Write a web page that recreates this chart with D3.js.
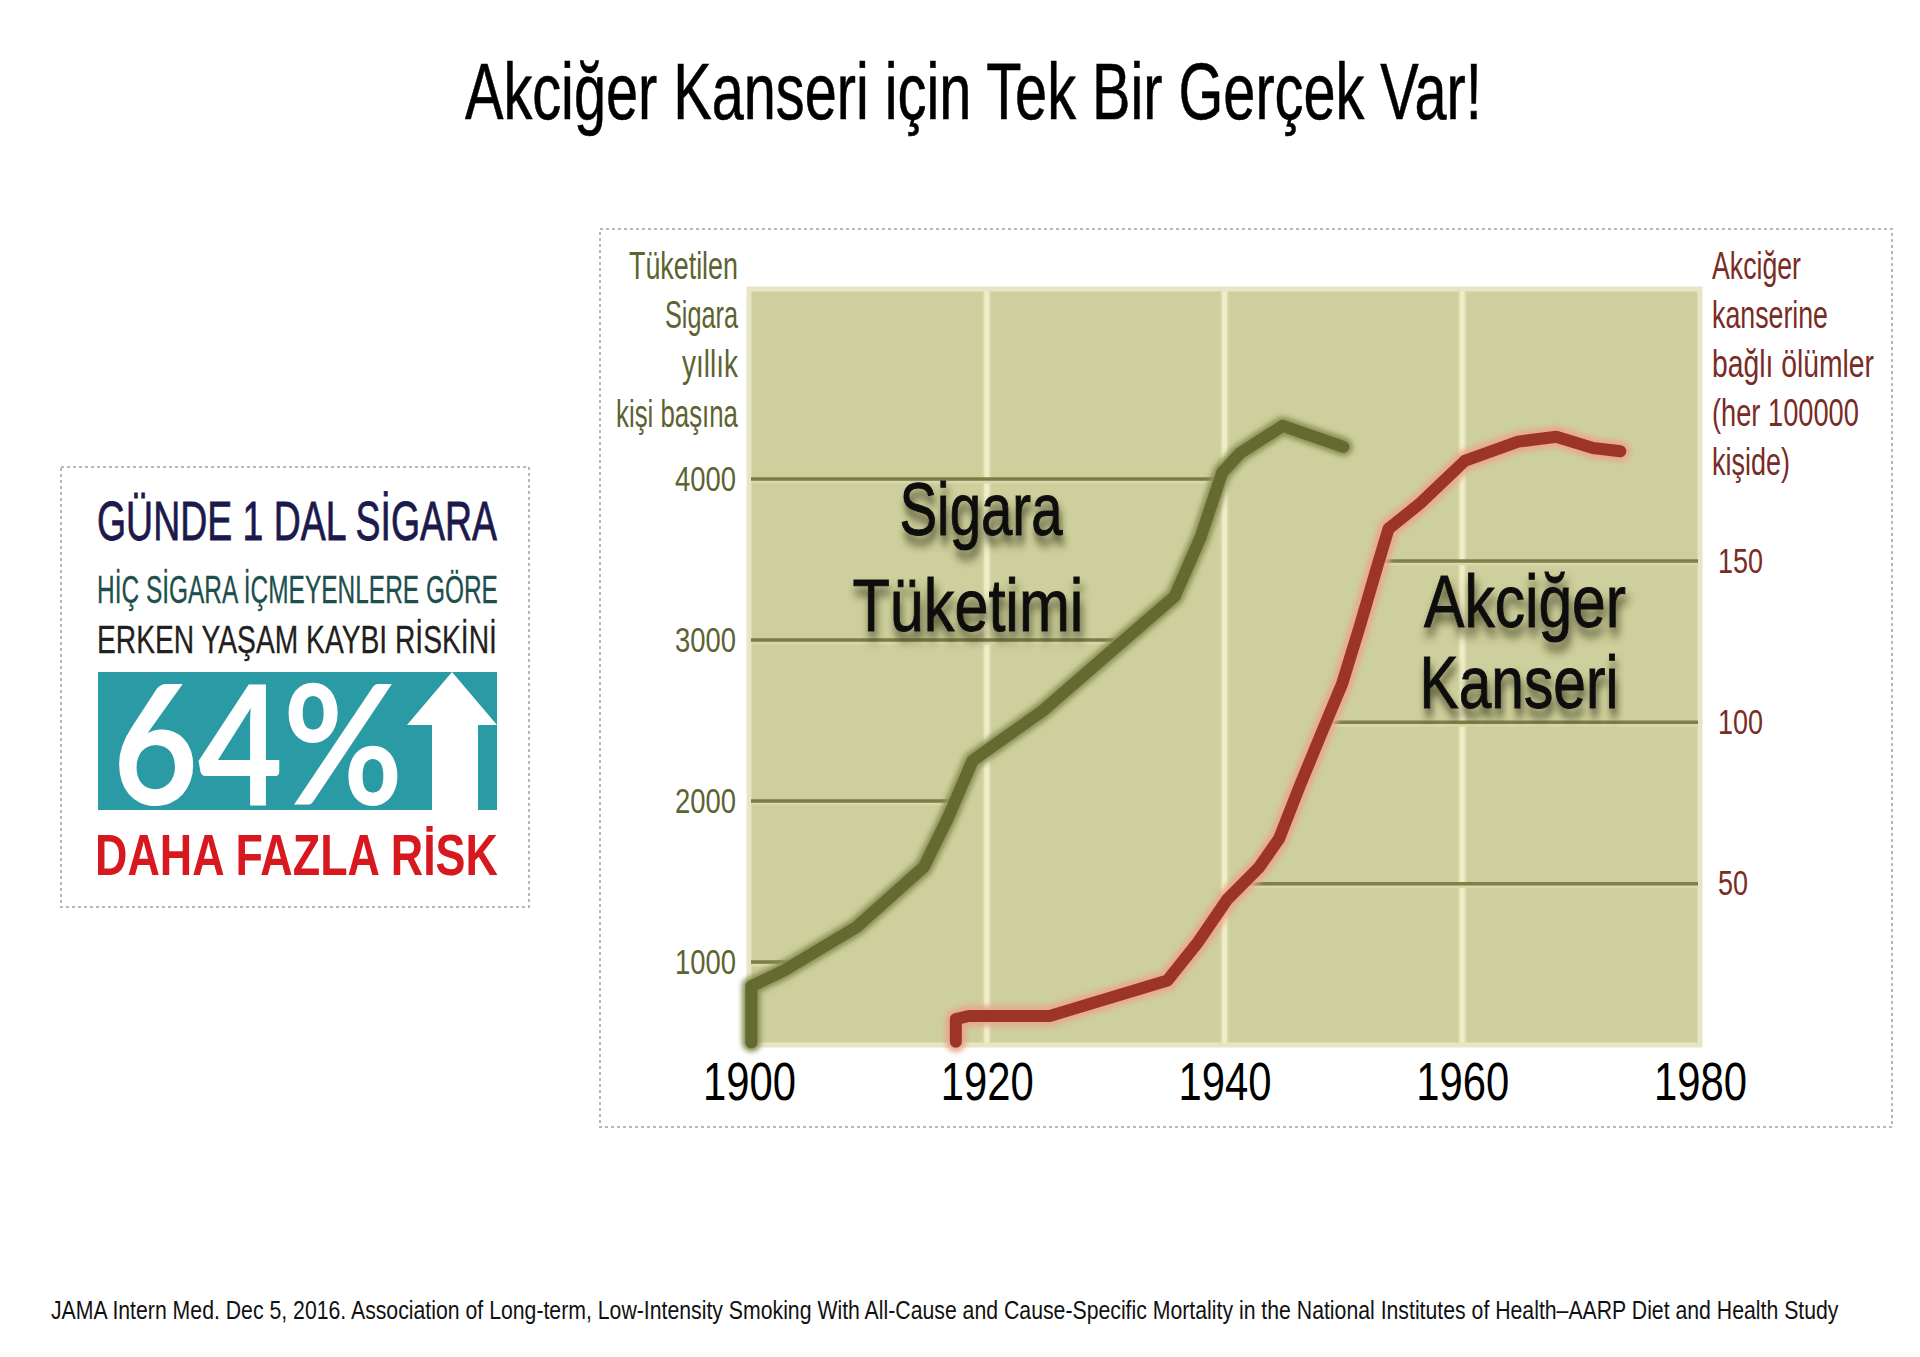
<!DOCTYPE html>
<html><head><meta charset="utf-8">
<script src="https://cdn.jsdelivr.net/npm/d3@7"></script>
<style>body{margin:0;background:#fff} svg{display:block}</style>
</head><body>
<svg id="c" width="1920" height="1357"></svg>
<script>
// ---------- DATA ----------
const xTickYears = [1900, 1920, 1940, 1960, 1980];
const leftTickValues = [1000, 2000, 3000, 4000];
const rightTickValues = [50, 100, 150];

// Cigarette consumption per person per year (left axis)
const cigYears  = [1900.2, 1900.2, 1903, 1909, 1914.7, 1916.7, 1918.8, 1920.3, 1924.7, 1930, 1935.8, 1938, 1939.8, 1941.3, 1944.9, 1950];
const cigValues = [500, 850, 950, 1215, 1590, 1890, 2250, 2330, 2560, 2900, 3270, 3640, 4040, 4160, 4330, 4200];

// Lung cancer deaths per 100000 (right axis)
const lcYears  = [1917.4, 1917.4, 1918.5, 1925.3, 1935.2, 1937.8, 1940.2, 1942.9, 1944.6, 1946.3, 1948.2, 1949.9, 1951.4, 1952.9, 1953.8, 1956.5, 1960.2, 1964.7, 1967.9, 1971, 1973.3];
const lcValues = [1, 8, 9, 9, 20, 32, 45, 55, 64, 80, 97, 112, 130, 149, 160, 168, 181, 187, 188.5, 185, 184];

const titleText = "Akciğer Kanseri için Tek Bir Gerçek Var!";
const leftAxisTitle = ["Tüketilen", "Sigara", "yıllık", "kişi başına"];
const rightAxisTitle = ["Akciğer", "kanserine", "bağlı ölümler", "(her 100000", "kişide)"];
const cigLabel = ["Sigara", "Tüketimi"];
const lcLabel = ["Akciğer", "Kanseri"];
const boxLines = ["GÜNDE 1 DAL SİGARA", "HİÇ SİGARA İÇMEYENLERE GÖRE", "ERKEN YAŞAM KAYBI RİSKİNİ"];
const boxPercent = "64%";
const boxRisk = "DAHA FAZLA RİSK";
const sourceText = "JAMA Intern Med. Dec 5, 2016. Association of Long-term, Low-Intensity Smoking With All-Cause and Cause-Specific Mortality in the National Institutes of Health–AARP Diet and Health Study";

// ---------- LAYOUT ----------
const FONT = "'Liberation Sans Narrow','Liberation Sans','DejaVu Sans Condensed',sans-serif";
const P = {left: 749, right: 1700, top: 289, bottom: 1045};
const svg = d3.select("#c");
const defs = svg.append("defs");

const sh = defs.append("filter").attr("id", "shadow").attr("x", "-20%").attr("y", "-30%").attr("width", "140%").attr("height", "170%");
sh.append("feGaussianBlur").attr("in", "SourceAlpha").attr("stdDeviation", 5).attr("result", "b");
sh.append("feOffset").attr("in", "b").attr("dx", 3).attr("dy", 9).attr("result", "o");
sh.append("feFlood").attr("flood-color", "#3a3818").attr("flood-opacity", 0.8);
sh.append("feComposite").attr("in2", "o").attr("operator", "in").attr("result", "s");
const m = sh.append("feMerge"); m.append("feMergeNode").attr("in", "s"); m.append("feMergeNode").attr("in", "SourceGraphic");

const glow = defs.append("filter").attr("id", "glow").attr("x", "-10%").attr("y", "-10%").attr("width", "120%").attr("height", "120%");
glow.append("feGaussianBlur").attr("stdDeviation", 2.5);

// condensed text: scale horizontally so that the text spans exactly w pixels
function txt(parent, s, x, y, o) {
  const t = parent.append("text").attr("x", 0).attr("y", 0).text(s)
    .attr("font-family", o.family || FONT).attr("font-size", o.size)
    .attr("fill", o.fill || "#000").attr("font-weight", o.weight || "normal");
  if (o.stroke) t.attr("stroke", o.fill || "#000").attr("stroke-width", o.stroke);
  const w0 = t.node().getComputedTextLength();
  const sx = o.w ? o.w / w0 : 1;
  const w = w0 * sx;
  let x0 = x;
  if (o.anchor === "end") x0 = x - w;
  else if (o.anchor === "middle") x0 = x - w / 2;
  t.attr("transform", `translate(${x0},${y}) scale(${sx},1)`);
  if (o.filter) t.attr("filter", o.filter);
  return t;
}

// Title
txt(svg, titleText, 465, 119, {size: 80, w: 1017, stroke: 0.6});
// Source
txt(svg, sourceText, 51, 1319, {size: 25, w: 1789, fill: "#111"});

// ---------- LEFT INFO BOX ----------
const box = svg.append("g");
box.append("rect").attr("x", 61).attr("y", 467).attr("width", 468).attr("height", 440)
  .attr("fill", "#fff").attr("stroke", "#b8b8b8").attr("stroke-width", 2).attr("stroke-dasharray", "3,3");
txt(box, boxLines[0], 97, 540, {size: 55, w: 400, fill: "#1c1a4c", stroke: 0.8});
txt(box, boxLines[1], 97, 603, {size: 39, w: 401, fill: "#1d4f4c", stroke: 0.3});
txt(box, boxLines[2], 97, 653, {size: 39, w: 400, fill: "#231f20", stroke: 0.3});
box.append("rect").attr("x", 98).attr("y", 672).attr("width", 399).attr("height", 138).attr("fill", "#2a9aa5");
box.append("path").attr("d", "M407,725 L452,672 L497,725 L478,725 L478,810 L432,810 L432,725 Z").attr("fill", "#fff");
txt(box, boxPercent, 113, 805, {size: 166, w: 290, fill: "#fff", weight: "bold", family: "Lato,'Open Sans',sans-serif"});
txt(box, boxRisk, 95, 875, {size: 58, w: 403, fill: "#d7191f", weight: "bold"});

// ---------- CHART ----------
svg.append("rect").attr("x", 600).attr("y", 229).attr("width", 1292).attr("height", 898)
  .attr("fill", "none").attr("stroke", "#b8b8b8").attr("stroke-width", 2).attr("stroke-dasharray", "3,3");

const x = d3.scaleLinear().domain([1900, 1980]).range([P.left, P.right]);
const yL = d3.scaleLinear().domain([485, 5180]).range([P.bottom, P.top]);
const yR = d3.scaleLinear().domain([0, 234.3]).range([P.bottom, P.top]);

const plot = svg.append("g");
plot.append("rect").attr("x", P.left).attr("y", P.top).attr("width", P.right - P.left).attr("height", P.bottom - P.top)
  .attr("fill", "#cdcf9c").attr("stroke", "#e6e6c6").attr("stroke-width", 5);

// vertical grid lines
xTickYears.filter(d => d > 1900 && d < 1980).forEach(d => {
  plot.append("line").attr("x1", x(d)).attr("x2", x(d)).attr("y1", P.top + 2).attr("y2", P.bottom - 2)
    .attr("stroke", "#d9d8aa").attr("stroke-width", 9);
  plot.append("line").attr("x1", x(d)).attr("x2", x(d)).attr("y1", P.top + 2).attr("y2", P.bottom - 2)
    .attr("stroke", "#efedc6").attr("stroke-width", 5);
});

function crossing(xs, ys, v) {
  for (let i = 0; i < xs.length - 1; i++) {
    if ((ys[i] - v) * (ys[i + 1] - v) <= 0 && ys[i] !== ys[i + 1]) {
      return xs[i] + (v - ys[i]) / (ys[i + 1] - ys[i]) * (xs[i + 1] - xs[i]);
    }
  }
  return null;
}

// left horizontal grid lines: from left edge to cigarette curve
leftTickValues.forEach(v => {
  const cx = crossing(cigYears, cigValues, v);
  plot.append("line").attr("x1", P.left + 2).attr("x2", x(cx)).attr("y1", yL(v) + 3).attr("y2", yL(v) + 3)
    .attr("stroke", "#d9d8ae").attr("stroke-width", 3);
  plot.append("line").attr("x1", P.left + 2).attr("x2", x(cx)).attr("y1", yL(v)).attr("y2", yL(v))
    .attr("stroke", "#7a7e46").attr("stroke-width", 3.5);
});
// right horizontal grid lines: from lung cancer curve to right edge
rightTickValues.forEach(v => {
  const cx = crossing(lcYears, lcValues, v);
  plot.append("line").attr("x1", x(cx)).attr("x2", P.right - 2).attr("y1", yR(v) + 3).attr("y2", yR(v) + 3)
    .attr("stroke", "#d9d8ae").attr("stroke-width", 3);
  plot.append("line").attr("x1", x(cx)).attr("x2", P.right - 2).attr("y1", yR(v)).attr("y2", yR(v))
    .attr("stroke", "#7f7f48").attr("stroke-width", 3.5);
});

// big labels with shadow
txt(plot, cigLabel[0], 981, 535, {size: 75, w: 163, anchor: "middle", filter: "url(#shadow)", fill: "#111", stroke: 1});
txt(plot, cigLabel[1], 968, 631, {size: 75, w: 231, anchor: "middle", filter: "url(#shadow)", fill: "#111", stroke: 1});
txt(plot, lcLabel[0], 1525, 627, {size: 75, w: 202, anchor: "middle", filter: "url(#shadow)", fill: "#111", stroke: 1});
txt(plot, lcLabel[1], 1519, 708, {size: 75, w: 199, anchor: "middle", filter: "url(#shadow)", fill: "#111", stroke: 1});

// lines
const cigLine = d3.line().x((d, i) => x(cigYears[i])).y((d, i) => yL(cigValues[i])).curve(d3.curveLinear);
const lcLine = d3.line().x((d, i) => x(lcYears[i])).y((d, i) => yR(lcValues[i])).curve(d3.curveLinear);

plot.append("path").attr("d", cigLine(cigValues)).attr("fill", "none").attr("stroke", "#8d9257").attr("stroke-width", 19)
  .attr("stroke-linejoin", "round").attr("stroke-linecap", "round").attr("filter", "url(#glow)");
plot.append("path").attr("d", cigLine(cigValues)).attr("fill", "none").attr("stroke", "#636b30").attr("stroke-width", 12)
  .attr("stroke-linejoin", "round").attr("stroke-linecap", "round");

plot.append("path").attr("d", lcLine(lcValues)).attr("fill", "none").attr("stroke", "#eba58c").attr("stroke-width", 21)
  .attr("stroke-linejoin", "round").attr("stroke-linecap", "round").attr("filter", "url(#glow)").attr("opacity", 0.9);
plot.append("path").attr("d", lcLine(lcValues)).attr("fill", "none").attr("stroke", "#9c3527").attr("stroke-width", 12)
  .attr("stroke-linejoin", "round").attr("stroke-linecap", "round");

// axes
function fitAxisText(sel, widthFn) {
  sel.each(function (d) {
    const w = widthFn(d);
    d3.select(this).attr("textLength", w).attr("lengthAdjust", "spacingAndGlyphs");
  });
}
const axL = svg.append("g").attr("transform", `translate(${P.left},0)`)
  .call(d3.axisLeft(yL).tickValues(leftTickValues).tickSize(0).tickPadding(13).tickFormat(d3.format("d")));
axL.select(".domain").remove();
axL.selectAll("text").attr("font-family", FONT).attr("font-size", 35).attr("fill", "#5c6330");
fitAxisText(axL.selectAll("text"), () => 61);

const axR = svg.append("g").attr("transform", `translate(${P.right},0)`)
  .call(d3.axisRight(yR).tickValues(rightTickValues).tickSize(0).tickPadding(18).tickFormat(d3.format("d")));
axR.select(".domain").remove();
axR.selectAll("text").attr("font-family", FONT).attr("font-size", 35).attr("fill", "#7a2b25");
fitAxisText(axR.selectAll("text"), d => String(d).length * 15);

const axB = svg.append("g").attr("transform", `translate(0,${P.bottom})`)
  .call(d3.axisBottom(x).tickValues(xTickYears).tickSize(0).tickPadding(17).tickFormat(d3.format("d")));
axB.select(".domain").remove();
axB.selectAll("text").attr("font-family", FONT).attr("font-size", 54).attr("fill", "#000");
fitAxisText(axB.selectAll("text"), () => 93);

// axis titles
const lw = [109, 73, 56, 122];
const lb = [279, 328, 377, 427];
leftAxisTitle.forEach((s, i) => txt(svg, s, 738, lb[i], {size: 38, w: lw[i], anchor: "end", fill: "#5c6330"}));
const rw = [89, 116, 162, 147, 78];
const rb = [279, 328, 377, 426, 475];
rightAxisTitle.forEach((s, i) => txt(svg, s, 1712, rb[i], {size: 38, w: rw[i], fill: "#7a2b25"}));
</script>
</body></html>
